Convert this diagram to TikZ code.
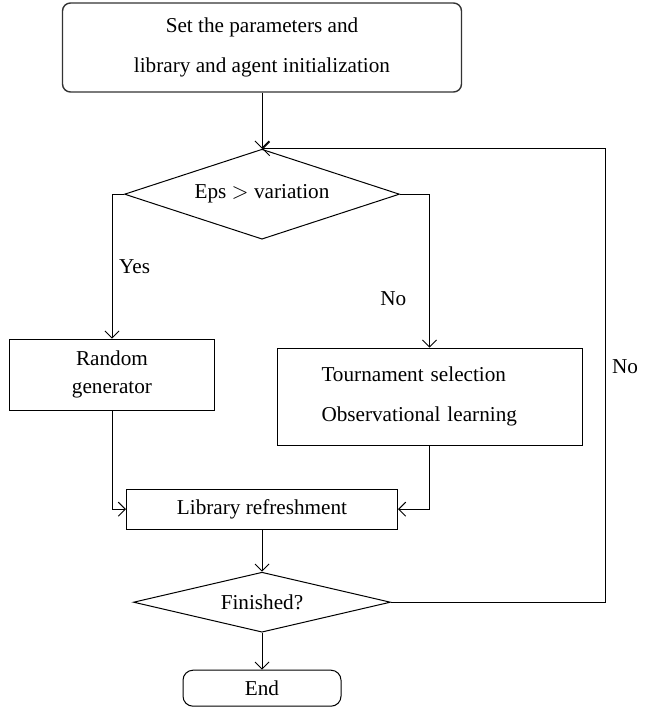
\documentclass[tikz,border=0pt]{standalone}
\usepackage{fontspec}
\setmainfont{Liberation Serif}
\usetikzlibrary{shapes.geometric, positioning, arrows.meta}
\tikzset{
	->, % Arcos dirigidos
	>={Straight Barb[length=3.5pt,width=7pt]}, % Punta abierta
	every path/.style={line width=0.5pt},
	every node/.style={font=\fontsize{10.6}{14}\selectfont},
	caja/.style={draw, rectangle, inner sep=2pt}, % Cajas de proceso
	redonda/.style={draw, rectangle, rounded corners=4pt, inner sep=2pt}, % Inicio y fin
	rombo/.style={draw, diamond, inner sep=1pt} % Decisiones
}

\begin{document}
\begin{tikzpicture}
	\useasboundingbox (-131pt,23.75pt) rectangle (196.5pt,-331.25pt);
	\node[redonda, draw=black!80, line width=0.7pt, minimum width=199.5pt, minimum height=44.5pt, align=center] (ini) at (0,0)
		{Set the parameters and\\[6pt]library and agent initialization};
	\node[rombo, aspect=3.06, minimum width=137.5pt, minimum height=45pt, below=28pt of ini] (eps) {Eps $>$ variation};
	\node[caja, minimum width=102.5pt, minimum height=35.5pt, align=center, below=49.5pt of eps, xshift=-75pt] (rnd)
		{Random\\generator};
	\node[caja, minimum width=152.5pt, minimum height=48.5pt, text width=108pt, align=left, below=54pt of eps, xshift=83.75pt] (tor)
		{Tournament selection\\[6pt]Observational learning};
	\node[caja, minimum width=135.5pt, minimum height=20pt, below=124.5pt of eps] (lib) {Library refreshment};
	\node[rombo, aspect=4.28, minimum width=128.5pt, minimum height=30pt, below=21pt of lib] (fin) {Finished?};
	\node[redonda, rounded corners=5pt, minimum width=79pt, minimum height=18pt, below=18.5pt of fin] (stop) {End};
	\draw	(ini) -- (eps);
	\draw	(eps.west) -| node[pos=0.75, right] {Yes} (rnd);
	\draw	(eps.east) -| node[pos=0.84, left=8pt] {No} (tor);
	\draw	(rnd) |- (lib);
	\draw	(tor) |- (lib);
	\draw	(lib) -- (fin);
	\draw	(fin) -- (stop);
	\draw	(fin.east) -- ++(107pt,0) |- node[pos=0.26, right] {No} (eps.north);
\end{tikzpicture}
\end{document}
